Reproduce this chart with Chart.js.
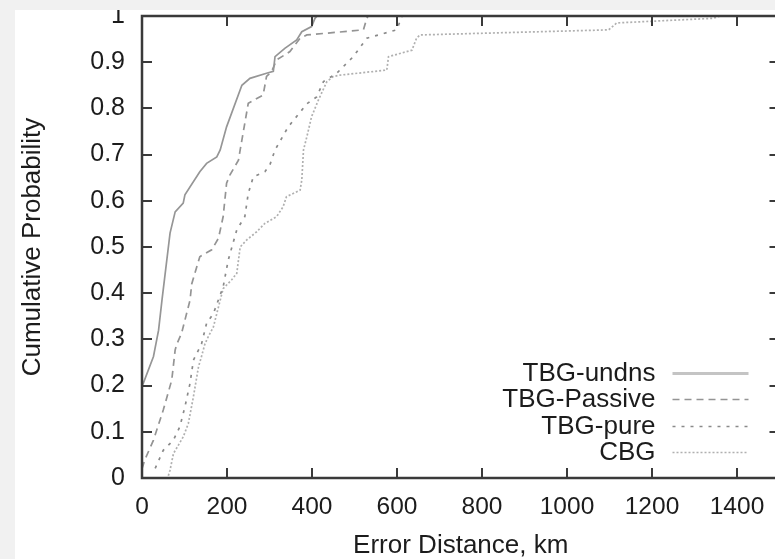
<!DOCTYPE html>
<html>
<head>
<meta charset="utf-8">
<script src="https://cdn.jsdelivr.net/npm/chart.js@4/dist/chart.umd.min.js"></script>
<style>
    html, body { margin: 0; padding: 0; width: 775px; height: 559px; overflow: hidden; background: #f1f1f1; }
    #wrap { position: absolute; left: 15px; top: 10px; width: 780px; height: 549px; background: #ffffff; }
</style>
</head>
<body>
<div id="wrap"><canvas id="cdfChart"></canvas></div>
<script>
// --- Data ---
const xTicks = [0, 200, 400, 600, 800, 1000, 1200, 1400];
const xTickLabels = ['0', '200', '400', '600', '800', '1000', '1200', '1400'];
const yTicks = [0, 0.1, 0.2, 0.3, 0.4, 0.5, 0.6, 0.7, 0.8, 0.9, 1];
const yTickLabels = ['0', '0.1', '0.2', '0.3', '0.4', '0.5', '0.6', '0.7', '0.8', '0.9', '1'];

const seriesNames = ['TBG-undns', 'TBG-Passive', 'TBG-pure', 'CBG'];

const undnsX = [0, 0, 3, 27, 39, 47, 66, 78, 97, 101, 136, 152, 176, 184, 199, 235, 254, 293, 309, 313, 336, 364, 376, 399, 407, 412];
const undnsY = [0, 0.2, 0.205, 0.263, 0.32, 0.385, 0.53, 0.576, 0.595, 0.613, 0.663, 0.681, 0.695, 0.71, 0.76, 0.85, 0.865, 0.876, 0.88, 0.912, 0.93, 0.948, 0.966, 0.977, 0.995, 1];

const passiveX = [0, 7, 27, 50, 70, 78, 82, 93, 113, 117, 136, 164, 180, 191, 199, 207, 227, 231, 250, 285, 293, 305, 317, 348, 372, 388, 521, 529, 532];
const passiveY = [0.02, 0.04, 0.082, 0.147, 0.212, 0.277, 0.29, 0.313, 0.385, 0.42, 0.479, 0.494, 0.519, 0.566, 0.638, 0.656, 0.688, 0.71, 0.811, 0.829, 0.869, 0.88, 0.905, 0.923, 0.952, 0.959, 0.97, 0.995, 1];

const pureX = [31, 50, 74, 89, 101, 113, 121, 140, 152, 168, 191, 203, 223, 242, 250, 262, 289, 301, 313, 344, 388, 411, 427, 458, 497, 529, 599, 607, 612];
const pureY = [0.021, 0.06, 0.082, 0.111, 0.154, 0.205, 0.255, 0.29, 0.335, 0.356, 0.414, 0.472, 0.537, 0.566, 0.616, 0.652, 0.663, 0.678, 0.71, 0.76, 0.81, 0.825, 0.858, 0.876, 0.912, 0.952, 0.97, 0.988, 1];

const cbgX = [62, 66, 74, 97, 109, 121, 133, 140, 148, 156, 168, 176, 191, 211, 223, 231, 246, 270, 289, 317, 332, 340, 372, 376, 380, 388, 399, 415, 435, 450, 466, 576, 580, 635, 646, 654, 1098, 1117, 1344, 1360];
const cbgY = [0.005, 0.017, 0.053, 0.089, 0.118, 0.176, 0.241, 0.263, 0.29, 0.306, 0.327, 0.356, 0.41, 0.429, 0.443, 0.5, 0.515, 0.533, 0.551, 0.566, 0.587, 0.609, 0.623, 0.645, 0.71, 0.739, 0.782, 0.818, 0.858, 0.869, 0.872, 0.883, 0.912, 0.926, 0.952, 0.959, 0.97, 0.985, 0.995, 1];

const toPoints = (xs, ys) => xs.map((x, i) => ({ x: x, y: ys[i] }));

const FONT = "'Liberation Sans', Arial, Helvetica, sans-serif";
const INK = '#1c1c1c';

// --- Frame with inward ticks on all four sides (gnuplot style) ---
const framePlugin = {
    id: 'frame',
    afterDatasetsDraw(chart) {
        const { ctx, chartArea: a, scales: { x, y } } = chart;
        const len = 10;
        ctx.save();
        ctx.strokeStyle = '#3a3a3a';
        ctx.lineWidth = 2;
        ctx.beginPath();
        xTicks.forEach(v => {
            const px = Math.round(x.getPixelForValue(v));
            ctx.moveTo(px, a.bottom); ctx.lineTo(px, a.bottom - len);
            ctx.moveTo(px, a.top); ctx.lineTo(px, a.top + len);
        });
        yTicks.forEach(v => {
            const py = Math.round(y.getPixelForValue(v));
            ctx.moveTo(a.left, py); ctx.lineTo(a.left + len, py);
            ctx.moveTo(a.right, py); ctx.lineTo(a.right - len, py);
        });
        ctx.stroke();
        ctx.lineWidth = 2.5;
        ctx.strokeRect(a.left, a.top, a.right - a.left, a.bottom - a.top);
        ctx.restore();
    }
};

// --- Key drawn inside the plot, text right-aligned with a line sample ---
const keyPlugin = {
    id: 'key',
    afterDatasetsDraw(chart) {
        const { ctx, chartArea: a } = chart;
        const textRight = a.right - 124;
        const x1 = a.right - 107, x2 = a.right - 31;
        ctx.save();
        ctx.font = '26px ' + FONT;
        ctx.fillStyle = INK;
        ctx.textAlign = 'right';
        ctx.textBaseline = 'middle';
        chart.data.datasets.forEach((ds, i) => {
            const yy = a.bottom - 105 + i * 26.3;
            ctx.fillText(ds.label, textRight, yy + 1);
            ctx.strokeStyle = ds.keyColor || ds.borderColor;
            ctx.lineWidth = ds.keyWidth || ds.borderWidth;
            ctx.setLineDash(ds.borderDash || []);
            ctx.beginPath();
            ctx.moveTo(x1, Math.round(yy) + 0.5);
            ctx.lineTo(x2, Math.round(yy) + 0.5);
            ctx.stroke();
        });
        ctx.restore();
    }
};

const ctx = document.getElementById('cdfChart');
new Chart(ctx, {
    type: 'line',
    data: {
        datasets: [
            {
                label: seriesNames[0],
                data: toPoints(undnsX, undnsY),
                borderColor: '#969696',
                keyColor: '#c4c4c4',
                keyWidth: 3,
                borderWidth: 1.7
            },
            {
                label: seriesNames[1],
                data: toPoints(passiveX, passiveY),
                borderColor: '#949494',
                borderWidth: 1.7,
                borderDash: [7, 5]
            },
            {
                label: seriesNames[2],
                data: toPoints(pureX, pureY),
                borderColor: '#8a8a8a',
                borderWidth: 1.7,
                borderDash: [3, 6]
            },
            {
                label: seriesNames[3],
                data: toPoints(cbgX, cbgY),
                borderColor: '#b0b0b0',
                borderWidth: 1.7,
                borderDash: [2, 2]
            }
        ]
    },
    options: {
        responsive: true,
        maintainAspectRatio: false,
        animation: false,
        layout: { padding: { top: 6, right: 15.5, left: 0, bottom: 0 } },
        elements: {
            point: { radius: 0 },
            line: { tension: 0, fill: false }
        },
        plugins: {
            legend: { display: false },
            tooltip: { enabled: false }
        },
        scales: {
            x: {
                type: 'linear',
                min: 0,
                max: 1500,
                afterBuildTicks: s => { s.ticks = xTicks.map(v => ({ value: v })); },
                afterFit: s => {
                    s.height = 81;
                    s.paddingLeft = 0; s.paddingRight = 0;
                },
                grid: { display: false, drawTicks: false },
                border: { display: false },
                ticks: {
                    color: INK,
                    font: { family: FONT, size: 24.5, lineHeight: 1.2 },
                    padding: 15,
                    maxRotation: 0,
                    callback: (v, i) => xTickLabels[i]
                },
                title: {
                    display: true,
                    text: 'Error Distance, km',
                    color: INK,
                    font: { family: FONT, size: 26, lineHeight: 1 },
                    padding: { top: 0, bottom: 0 }
                }
            },
            y: {
                type: 'linear',
                min: 0,
                max: 1,
                afterBuildTicks: s => { s.ticks = yTicks.map(v => ({ value: v })); },
                afterFit: s => {
                    s.width = 127;
                    s.paddingTop = 0; s.paddingBottom = 0;
                },
                grid: { display: false, drawTicks: false },
                border: { display: false },
                ticks: {
                    color: INK,
                    font: { family: FONT, size: 25, lineHeight: 1.2 },
                    padding: 17,
                    callback: (v, i) => yTickLabels[i]
                },
                title: {
                    display: true,
                    text: 'Cumulative Probability',
                    color: INK,
                    font: { family: FONT, size: 26, lineHeight: 1 },
                    padding: { top: 5, bottom: 0 }
                }
            }
        }
    },
    plugins: [framePlugin, keyPlugin]
});
</script>
</body>
</html>
